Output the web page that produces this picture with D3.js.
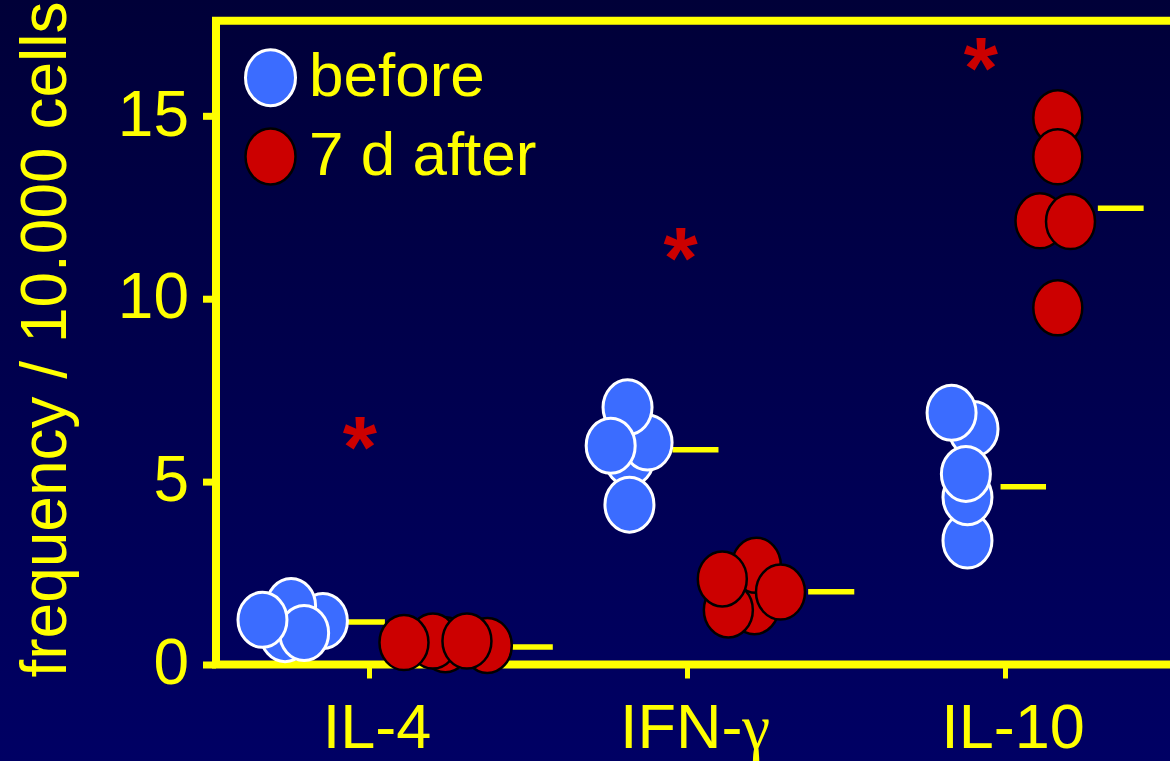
<!DOCTYPE html>
<html><head><meta charset="utf-8">
<script src="https://cdn.jsdelivr.net/npm/d3@7"></script>
<style>html,body{margin:0;padding:0;background:#00004a;overflow:hidden}svg{display:block}</style>
</head><body>
<svg id="chart" width="1170" height="761"></svg>
<script>
// ---------- data ----------
const categories = ["IL-4", "IFN-γ", "IL-10"];
const seriesNames = ["before", "7 d after"];
const yTickValues = [0, 5, 10, 15];
const yLabel = "frequency / 10.000 cells";

// individual values (frequency / 10.000 cells), listed per category
const beforeValues = [
  [0.83, 1.19, 1.60, 0.86, 1.22],
  [5.64, 4.37, 6.07, 7.03, 5.98],
  [3.39, 4.57, 6.44, 6.88, 5.21]
];
// horizontal jitter of each dot, in category-step units
const beforeJitter = [
  [-0.264, -0.145, -0.245, -0.204, -0.335],
  [-0.181, -0.181, -0.124, -0.187, -0.240],
  [-0.118, -0.118, -0.099, -0.168, -0.123]
];
const afterValues = [
  [0.52, 0.54, 0.64, 0.64, 0.60],
  [1.58, 2.71, 1.49, 2.34, 1.98],
  [14.95, 13.88, 12.13, 12.11, 9.75]
];
const afterJitter = [
  [0.372, 0.240, 0.201, 0.308, 0.110],
  [0.212, 0.218, 0.130, 0.111, 0.294],
  [0.166, 0.166, 0.110, 0.206, 0.166]
];
// group mean bars
const beforeMeans = [1.16, 5.87, 4.86];
const afterMeans = [0.48, 1.99, 12.47];
const beforeMeanSpan = [[-0.066, 0.050], [-0.046, 0.099], [-0.014, 0.129]];
const afterMeanSpan = [[0.436, 0.578], [0.381, 0.526], [0.292, 0.436]];
// significance asterisks
const sigValues = [6.19, 11.35, 16.56];
const sigJitter = [-0.029, -0.020, -0.076];

// ---------- styles ----------
const YELLOW = "#ffff00";
const BLUE = "#3b6cff";
const RED = "#cc0000";
const FONT = "'Liberation Sans', Arial, Helvetica, sans-serif";
const W = 1170, H = 761;
const frameLeft = 216, frameRight = 1200;
const RX = 24.5, RY = 27.5;
const STAR_SIZE = 88;

const svg = d3.select("#chart");
const defs = svg.append("defs");
const grad = defs.append("linearGradient").attr("id", "bg").attr("x1", 0).attr("y1", 0).attr("x2", 0).attr("y2", 1);
grad.append("stop").attr("offset", "0%").attr("stop-color", "#000038");
grad.append("stop").attr("offset", "100%").attr("stop-color", "#000064");
svg.append("rect").attr("width", W).attr("height", H).attr("fill", "url(#bg)");

const x = d3.scalePoint().domain(categories).range([369, 1005]);
const step = x.step();
const y = d3.scaleLinear().domain([0, 17.6]).range([664.5, 20.7]);
const px = (cat, j) => x(cat) + j * step;

// y axis
const gy = svg.append("g").attr("transform", `translate(${frameLeft},0)`)
  .call(d3.axisLeft(y).tickValues(yTickValues).tickSize(13).tickPadding(14).tickFormat(d3.format("d")));
gy.select(".domain").remove();
gy.selectAll(".tick line").attr("stroke", YELLOW).attr("stroke-width", 7);
gy.selectAll(".tick text").attr("fill", YELLOW).attr("font-family", FONT).attr("font-size", 64).attr("dy", "0.30em");

// x axis
const gx = svg.append("g").attr("transform", `translate(0,${y(0)})`)
  .call(d3.axisBottom(x).tickSize(14).tickPadding(25));
gx.select(".domain").remove();
gx.selectAll(".tick line").attr("stroke", YELLOW).attr("stroke-width", 5);
gx.selectAll(".tick text").attr("fill", YELLOW).attr("font-family", FONT).attr("font-size", 63).attr("dx", "0.12em")
  .each(function(d) {
    const t = d3.select(this);
    const m = d.match(/^(.*?)([\u0370-\u03ff]+)$/);
    if (m) {
      t.text(null);
      t.append("tspan").text(m[1]);
      t.append("tspan").attr("font-family", "'Liberation Serif', 'Times New Roman', serif").text(m[2]);
    }
  });

// frame
svg.append("path")
  .attr("d", `M${frameRight},${y(17.6)}H${frameLeft}V${y(0)}H${frameRight}`)
  .attr("fill", "none").attr("stroke", YELLOW).attr("stroke-width", 8).attr("stroke-linejoin", "miter");

// y label
svg.append("text")
  .attr("transform", `translate(66,${y(0) + 13}) rotate(-90)`)
  .attr("fill", YELLOW).attr("font-family", FONT).attr("font-size", 64)
  .text(yLabel);

// mean bars
function meanBars(means, spans) {
  svg.append("g").selectAll("line").data(categories).join("line")
    .attr("x1", (c, i) => px(c, spans[i][0]))
    .attr("x2", (c, i) => px(c, spans[i][1]))
    .attr("y1", (c, i) => y(means[i]))
    .attr("y2", (c, i) => y(means[i]))
    .attr("stroke", YELLOW).attr("stroke-width", 5.5);
}
meanBars(beforeMeans, beforeMeanSpan);
meanBars(afterMeans, afterMeanSpan);

// dots
function dots(values, jitter, fill, stroke, sw) {
  const pts = [];
  categories.forEach((c, i) => values[i].forEach((v, k) => pts.push({c, v, j: jitter[i][k]})));
  svg.append("g").selectAll("ellipse").data(pts).join("ellipse")
    .attr("cx", d => px(d.c, d.j)).attr("cy", d => y(d.v))
    .attr("rx", RX).attr("ry", RY)
    .attr("fill", fill).attr("stroke", stroke).attr("stroke-width", sw);
}
dots(beforeValues, beforeJitter, BLUE, "#ffffff", 3);
dots(afterValues, afterJitter, RED, "#000000", 2.5);

// asterisks
svg.append("g").selectAll("text").data(categories).join("text")
  .attr("x", (c, i) => px(c, sigJitter[i]))
  .attr("y", (c, i) => y(sigValues[i]) + 0.445 * STAR_SIZE)
  .attr("text-anchor", "middle")
  .attr("fill", RED).attr("font-family", FONT).attr("font-weight", "bold").attr("font-size", STAR_SIZE)
  .text("*");

// legend
const legend = svg.append("g");
const legendColors = [[BLUE, "#ffffff", 3], [RED, "#000000", 2.5]];
const legendY = d3.scalePoint().domain(seriesNames).range([77.7, 156.5]);
seriesNames.forEach((s, i) => {
  legend.append("ellipse").attr("cx", 270.5).attr("cy", legendY(s)).attr("rx", 25).attr("ry", 28)
    .attr("fill", legendColors[i][0]).attr("stroke", legendColors[i][1]).attr("stroke-width", legendColors[i][2]);
  legend.append("text").attr("x", 309).attr("y", legendY(s) + 18)
    .attr("fill", YELLOW).attr("font-family", FONT).attr("font-size", 62).text(s);
});
</script>
</body></html>
